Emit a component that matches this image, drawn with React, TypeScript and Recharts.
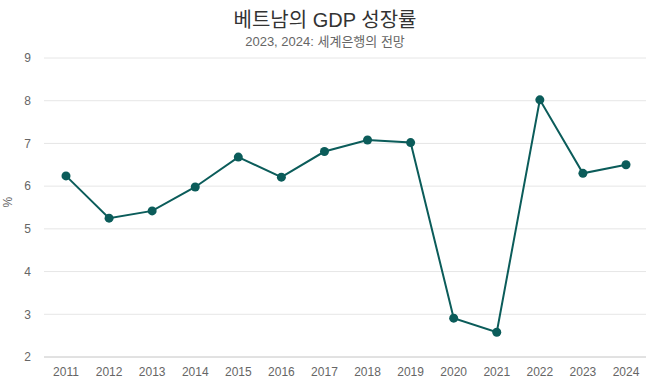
import React from 'react';
import { LineChart, Line, XAxis, YAxis, CartesianGrid } from 'recharts';

const years = ['2011','2012','2013','2014','2015','2016','2017','2018','2019','2020','2021','2022','2023','2024'];
const growth = [6.24, 5.25, 5.42, 5.98, 6.68, 6.21, 6.81, 7.08, 7.02, 2.91, 2.58, 8.02, 6.3, 6.5];
const yTicks = [2, 3, 4, 5, 6, 7, 8, 9];
const title = '베트남의 GDP 성장률';
const subtitle = '2023, 2024: 세계은행의 전망';

const data = years.map((y, i) => ({ year: y, value: growth[i] }));
const FONT = "'Liberation Sans', 'Noto Sans CJK KR', sans-serif";
const LINE = '#0b5c5a';

export default function App() {
  return (
    <div style={{ position: 'absolute', left: 0, top: 0, width: 650, height: 390, background: '#fff', fontFamily: FONT }}>
      <div style={{ position: 'absolute', left: 0, top: 4, width: 650, textAlign: 'center', fontSize: 20, color: '#333' }}>{title}</div>
      <div style={{ position: 'absolute', left: 0, top: 31, width: 650, textAlign: 'center', fontSize: 13, color: '#666' }}>{subtitle}</div>
      <LineChart width={650} height={390} data={data} margin={{ top: 58, right: 4, bottom: 8, left: 0 }} style={{ fontFamily: FONT }}>
        <CartesianGrid horizontal vertical={false} stroke="#e6e6e6" />
        <XAxis dataKey="year" height={25} tickLine={false} axisLine={{ stroke: '#d0d0d0' }} tickSize={0} tickMargin={10}
          tick={{ fontSize: 12, fill: '#666' }} interval={0} padding={{ left: 22, right: 20 }} />
        <YAxis width={44} domain={[2, 9]} ticks={yTicks} tickLine={false} axisLine={false} tickSize={0} tickMargin={13}
          tick={{ fontSize: 12, fill: '#666' }}
          label={{ value: '%', angle: -90, position: 'insideLeft', offset: 8, style: { fontSize: 12, fill: '#666' } }} />
        <Line type="linear" dataKey="value" stroke={LINE} strokeWidth={2} isAnimationActive={false}
          dot={{ r: 4.5, fill: LINE, stroke: LINE, strokeWidth: 0 }} activeDot={false} />
      </LineChart>
    </div>
  );
}
